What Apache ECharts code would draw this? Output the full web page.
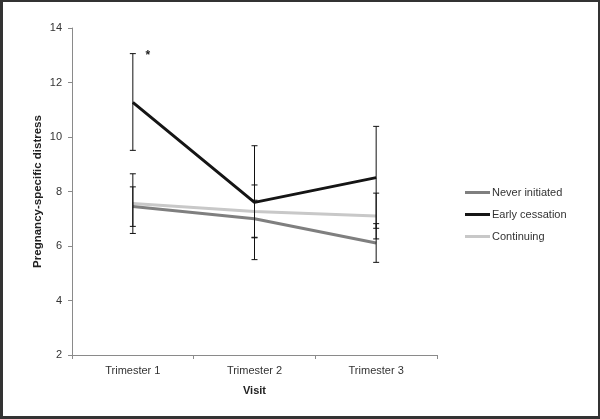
<!DOCTYPE html>
<html><head><meta charset="utf-8">
<script src="https://cdn.jsdelivr.net/npm/echarts@6/dist/echarts.min.js"></script>
<style>
html,body{margin:0;padding:0;background:#fff;}
#frame{width:600px;height:419px;box-sizing:border-box;border:2px solid #333;border-left-width:3px;border-bottom-width:3px;position:relative;overflow:hidden;}
#chart{position:absolute;left:-3px;top:-2px;width:600px;height:419px;}
</style></head>
<body><div id="frame"><div id="chart"></div></div>
<script>
var categories = ['Trimester 1', 'Trimester 2', 'Trimester 3'];
var neverInitiated = [7.45, 7.0, 6.11];
var earlyCessation = [11.27, 7.6, 8.51];
var continuing = [7.56, 7.27, 7.1];
var neverErr = [[6.72, 8.17], [6.32, 7.68], [5.4, 6.82]];
var earlyErr = [[9.51, 13.06], [5.5, 9.68], [6.65, 10.39]];
var contErr = [[6.46, 8.65], [6.3, 8.24], [6.26, 7.94]];
var yTicks = [2, 4, 6, 8, 10, 12, 14];
var sigMark = { category: 'Trimester 1', value: 13.06, text: '*' };

var font = 'Liberation Sans';
function errData(arr) { return arr.map(function (d, i) { return [i, d[0], d[1]]; }); }
function errSeries(name, arr) {
  return {
    type: 'custom', name: name + ' err', silent: true, z: 5,
    renderItem: function (params, api) {
      var x = api.value(0);
      var lo = api.coord([x, api.value(1)]);
      var hi = api.coord([x, api.value(2)]);
      var w = 3;
      var st = { stroke: '#111', lineWidth: 1 };
      return { type: 'group', children: [
        { type: 'line', shape: { x1: lo[0], y1: lo[1], x2: hi[0], y2: hi[1] }, style: st },
        { type: 'line', shape: { x1: lo[0] - w, y1: lo[1], x2: lo[0] + w, y2: lo[1] }, style: st },
        { type: 'line', shape: { x1: hi[0] - w, y1: hi[1], x2: hi[0] + w, y2: hi[1] }, style: st }
      ] };
    },
    data: errData(arr)
  };
}
var chart = echarts.init(document.getElementById('chart'), null, { renderer: 'canvas' });
chart.setOption({
  animation: false,
  textStyle: { fontFamily: font },
  grid: { left: 72, right: 163, top: 28, bottom: 64 },
  legend: {
    orient: 'vertical', left: 465, top: 186, padding: 0, itemWidth: 25, itemHeight: 3, itemGap: 9,
    icon: 'rect',
    textStyle: { fontFamily: font, fontSize: 11, color: '#333', lineHeight: 13, padding: [0, 0, 0, -3] },
    data: ['Never initiated', 'Early cessation', 'Continuing']
  },
  xAxis: {
    type: 'category', data: categories, boundaryGap: true,
    name: 'Visit', nameLocation: 'middle', nameGap: 30, nameMoveOverlap: false,
    nameTextStyle: { fontFamily: font, fontWeight: 'bold', fontSize: 11, color: '#222' },
    axisLine: { lineStyle: { color: '#8a8a8a', width: 1 } },
    axisTick: { show: true, length: 4, lineStyle: { color: '#8a8a8a' } },
    axisLabel: { fontFamily: font, fontSize: 11, color: '#333', margin: 10 }
  },
  yAxis: {
    type: 'value', min: 2, max: 14, interval: 2,
    name: 'Pregnancy-specific distress', nameLocation: 'middle', nameGap: 28, nameMoveOverlap: false,
    nameTextStyle: { fontFamily: font, fontWeight: 'bold', fontSize: 11.5, color: '#222' },
    axisLine: { show: true, lineStyle: { color: '#8a8a8a', width: 1 } },
    axisTick: { show: true, length: 4, lineStyle: { color: '#8a8a8a' } },
    splitLine: { show: false },
    axisLabel: { fontFamily: font, fontSize: 11, color: '#333', margin: 10,
      formatter: function (v) { return yTicks.indexOf(v) >= 0 ? String(v) : ''; } }
  },
  series: [
    { name: 'Never initiated', type: 'line', data: neverInitiated, symbol: 'none', z: 3,
      lineStyle: { color: '#7f7f7f', width: 3 }, itemStyle: { color: '#7f7f7f' } },
    { name: 'Early cessation', type: 'line', data: earlyCessation, symbol: 'none', z: 4,
      lineStyle: { color: '#151515', width: 3 }, itemStyle: { color: '#151515' },
      markPoint: { symbol: 'circle', symbolSize: 0, silent: true,
        data: [{ coord: [sigMark.category, sigMark.value] }],
        label: { show: true, formatter: sigMark.text, offset: [15, 2], color: '#222', fontSize: 12, fontWeight: 'bold' } } },
    { name: 'Continuing', type: 'line', data: continuing, symbol: 'none', z: 2,
      lineStyle: { color: '#c8c8c8', width: 3 }, itemStyle: { color: '#c8c8c8' } },
    errSeries('Never initiated', neverErr),
    errSeries('Early cessation', earlyErr),
    errSeries('Continuing', contErr)
  ]
});
</script></body></html>
